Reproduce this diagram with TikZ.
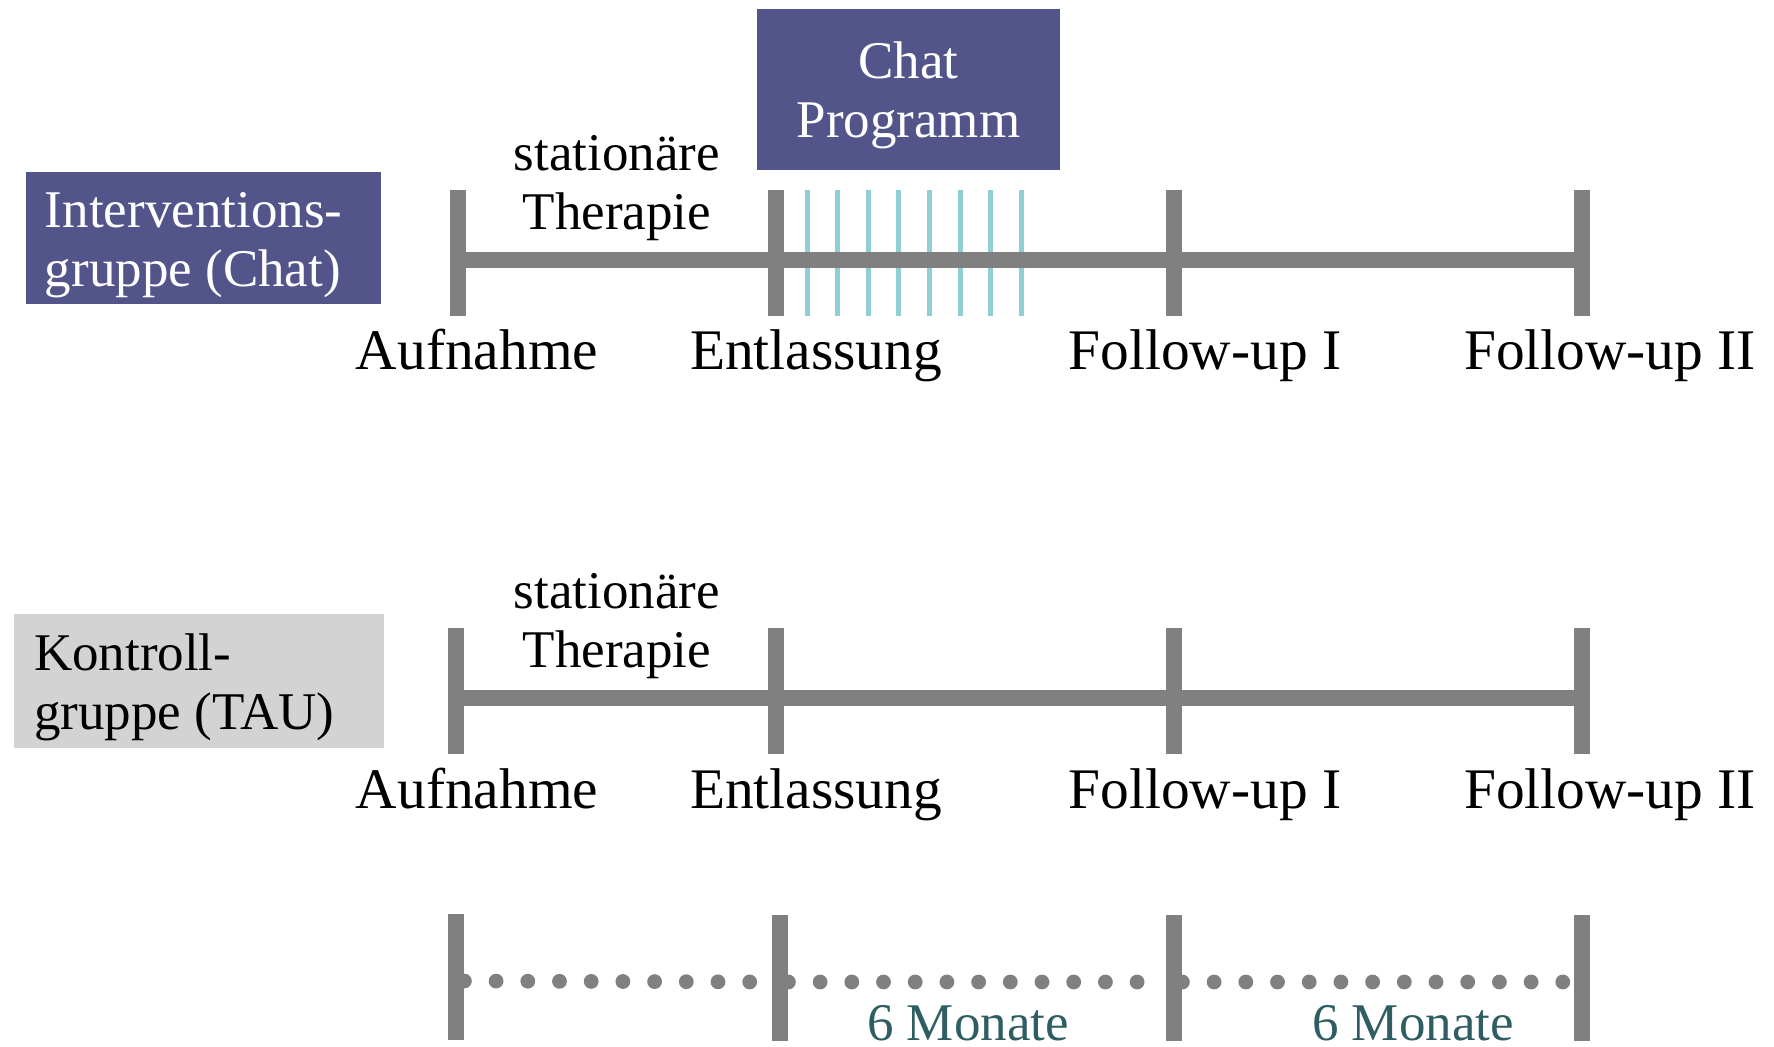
\documentclass[tikz,border=0pt]{standalone}
\usepackage{fontspec}
\setmainfont{Liberation Serif}
\usetikzlibrary{positioning}

\definecolor{chatpurple}{RGB}{83,84,138}
\definecolor{tlgray}{RGB}{128,128,128}
\definecolor{chatcyan}{RGB}{143,206,211}
\definecolor{monteal}{RGB}{47,94,98}
\definecolor{tauback}{RGB}{211,211,211}

\begin{document}
\begin{tikzpicture}[x=0.5pt,y=-0.5pt]
        \tikzset{tick/.style={rectangle,fill=tlgray,minimum width=8pt,minimum height=63pt,inner sep=0pt},
        lbl/.style={font=\fontsize{28.7}{32}\selectfont,anchor=base,inner sep=0pt},
        txt/.style={font=\fontsize{26.5}{29.5}\selectfont,align=center,inner sep=0pt},
        groupbox/.style={rectangle,inner sep=0pt},
        grouptext/.style={font=\fontsize{26.5}{29.5}\selectfont,align=left,inner sep=0pt,anchor=west},
        axis/.style={draw=tlgray,line width=8pt},
        chatline/.style={draw=chatcyan,line width=2.5pt},
        dots/.style={draw=tlgray,line width=7.4pt,line cap=round,dash pattern=on 0pt off 15.85pt}
        }
        \useasboundingbox (0,0) rectangle (1774,1047);

%% Interventionsgruppe
        \node [groupbox,fill=chatpurple,minimum width=177.5pt,minimum height=66pt] (igroup) at (203.5,238) {};
        \node [grouptext,text=white] (igrouptext) at ([xshift=9.5pt,yshift=-3.4pt]igroup.west) {Interventions-\\gruppe (Chat)};
        \node [groupbox,fill=chatpurple,minimum width=151.5pt,minimum height=80.5pt] (chatprog) at (908.5,89.5) {};
        \node [txt,text=white] (chatprogtext) at ([yshift=-3.1pt]chatprog.center) {Chat\\Programm};
        \node [tick] (ia) at (458,253) {};
        \node [tick] (ie) at (776,253) {};
        \node [tick] (if1) at (1174,253) {};
        \node [tick] (if2) at (1582,253) {};
        \foreach \i in {0,...,7}
            \draw [chatline] (807+30.6*\i,190) -- (807+30.6*\i,316);
        \node [txt] (itherapie) at (617,188) {stationäre\\Therapie};
        \node [lbl] (ial) at (477,370) {Aufnahme};
        \node [lbl] (iel) at (816,370) {Entlassung};
        \node [lbl] (if1l) at (1205,370) {Follow-up I};
        \node [lbl] (if2l) at (1610,370) {Follow-up II};

%% Kontrollgruppe
        \node [groupbox,fill=tauback,minimum width=185pt,minimum height=67pt] (kgroup) at (199,681) {};
        \node [grouptext] (kgrouptext) at ([xshift=10pt,yshift=-3.4pt]kgroup.west) {Kontroll-\\gruppe (TAU)};
        \node [tick] (ka) at (456,691) {};
        \node [tick] (ke) at (776,691) {};
        \node [tick] (kf1) at (1174,691) {};
        \node [tick] (kf2) at (1582,691) {};
        \node [txt] (ktherapie) at (617,626) {stationäre\\Therapie};
        \node [lbl] (kal) at (477,809) {Aufnahme};
        \node [lbl] (kel) at (816,809) {Entlassung};
        \node [lbl] (kf1l) at (1205,809) {Follow-up I};
        \node [lbl] (kf2l) at (1610,809) {Follow-up II};

%% Zeitachse
        \node [tick] (ta) at (456,977) {};
        \node [tick] (te) at (780,978) {};
        \node [tick] (tf1) at (1174,978) {};
        \node [tick] (tf2) at (1582,978) {};
        \node [lbl,text=monteal,font=\fontsize{26.5}{29.5}\selectfont] (m1) at (968,1040) {6 Monate};
        \node [lbl,text=monteal,font=\fontsize{26.5}{29.5}\selectfont] (m2) at (1413,1040) {6 Monate};

%% paths
        \path [axis] ([yshift=-3.5pt]ia.center) -- ([yshift=-3.5pt]if2.center)
                     ([yshift=-3.5pt]ka.center) -- ([yshift=-3.5pt]kf2.center);
        \path [dots] ([yshift=-2pt]ta.east) -- ([yshift=-2pt]te.west)
                     ([yshift=-2pt]te.east) -- ([yshift=-2pt]tf1.west)
                     ([yshift=-2pt]tf1.east) -- ([yshift=-2pt]tf2.west);
    \end{tikzpicture}
\end{document}
